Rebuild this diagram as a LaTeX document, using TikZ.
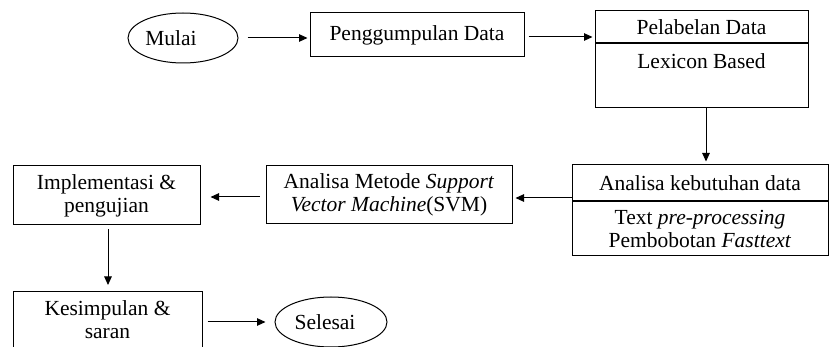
\documentclass[tikz,border=0pt]{standalone}
\usepackage{fontspec}
\setmainfont{Liberation Serif}
\usetikzlibrary{arrows.meta,shapes.geometric}
\newcommand\diafont{\fontsize{21.5}{23}\selectfont}
\begin{document}
\begin{tikzpicture}[x=1pt,y=-1pt,
  box/.style={draw, line width=1pt, rectangle, inner sep=0pt, align=center, font=\diafont},
  oval/.style={draw, line width=1pt, ellipse, inner sep=0pt, font=\diafont},
  arr/.style={-{Triangle[length=8.5pt,width=7.5pt]}, line width=1pt}]
\useasboundingbox (0,0) rectangle (830,347);
\clip (0,0) rectangle (830,347);
\node[oval, minimum width=110pt, minimum height=50pt] (mulai) at (183,38) {Mulai\hspace*{24pt}};
\node[box, minimum width=214pt, minimum height=44pt] (pg) at (417,35) {Penggumpulan Data};
\node[box, minimum width=213pt, minimum height=32pt] (pl1) at (701.5,27) {Pelabelan Data};
\node[box, minimum width=213pt, anchor=north, text height=25pt, text depth=39pt] (pl2) at (pl1.south) {Lexicon Based};
\node[box, minimum width=256pt, minimum height=36pt] (ak1) at (700,183) {Analisa kebutuhan data};
\node[box, minimum width=256pt, minimum height=54pt, anchor=north] (ak2) at (ak1.south) {Text \textit{pre-processing}\\Pembobotan \textit{Fasttext}};
\node[box, minimum width=246pt, minimum height=58pt] (svm) at (389,195) {Analisa Metode \textit{Support}\\\textit{Vector Machine}(SVM)};
\node[box, minimum width=187pt, minimum height=59pt] (impl) at (106.5,195.5) {Implementasi \&\\pengujian};
\node[box, minimum width=189pt, minimum height=80pt, anchor=north] (kes) at (107.5,291) {Kesimpulan \&\\saran\\\mbox{}};
\node[oval, minimum width=112pt, minimum height=50pt] (sel) at (331,322) {Selesai\hspace*{12pt}};
\draw[arr, shorten <=9pt, shorten >=2pt] (mulai.east) -- (mulai.east -| pg.west);
\draw[arr, shorten <=4pt, shorten >=2pt] ([yshift=-2pt]pg.east) -- ([yshift=-2pt]pg.east -| pl1.west);
\draw[arr, shorten >=3pt] ([xshift=4.5pt]pl2.south) -- ([xshift=4.5pt]pl2.south |- ak1.north);
\draw[arr, shorten >=3pt] ([yshift=-3pt]svm.east -| ak1.west) -- ([yshift=-3pt]svm.east);
\draw[arr, shorten <=6pt, shorten >=10pt] ([yshift=-2pt]svm.west) -- ([yshift=-2pt]svm.west -| impl.east);
\draw[arr, shorten <=4pt, shorten >=6pt] ([xshift=1.5pt]impl.south) -- ([xshift=1.5pt]impl.south |- kes.north);
\draw[arr, shorten <=5pt, shorten >=9pt] (sel.west -| kes.east) -- (sel.west);
\end{tikzpicture}
\end{document}
